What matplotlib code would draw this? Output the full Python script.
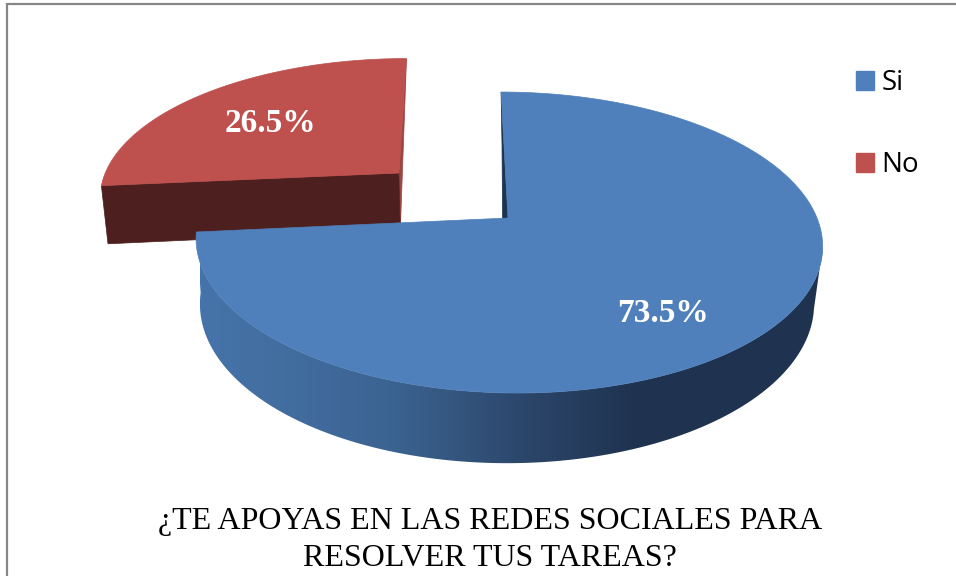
import numpy as np
import matplotlib
matplotlib.use("Agg")
import matplotlib.pyplot as plt
from matplotlib.patches import Polygon, Patch
from matplotlib.colors import LinearSegmentedColormap

labels = ["Si", "No"]
values = [73.5, 26.5]
value_labels = ["73.5%", "26.5%"]
title_lines = ["¿TE APOYAS EN LAS REDES SOCIALES PARA", "RESOLVER TUS TAREAS?"]

BLUE = "#4f80bb"
RED = "#be504d"
RED_FRONT = "#4d1f1e"
RED_BACK = "#9c4543"
BLUE_WALL = "#1b3450"

# projection of the pie disc on the picture: (cx, cy, a, b, shear)
TOP = (508, 218, 309, 146.5, 0.055)
BOTTOM = (507, 278, 303, 155, 0.0)
PERSP = 0.163
EXPLODE = 0.48
RED_SHIFT_TOP = np.array([-2.5, 0])
RED_SHIFT_BOTTOM = np.array([-4.5, 0])


def project(u, v, p):
    cx, cy, a, b, s = p
    u = np.asarray(u, dtype=float)
    v = np.asarray(v, dtype=float)
    y = cy - b * v / (1 + PERSP * v)
    x = cx + a * u / (1 + PERSP * v) + s * (y - cy)
    return np.column_stack([x, y])


def wedge_uv(start, stop, off=(0, 0), n=200):
    # angles clockwise from the top
    t = np.radians(np.linspace(start, stop, n))
    return np.sin(t) + off[0], np.cos(t) + off[1]


angles = np.cumsum([0] + values) * 3.6

fig = plt.figure(figsize=(9.56, 5.76), dpi=100)
ax = fig.add_axes([0, 0, 1, 1])
ax.axis("off")

# chart frame, only left and top are inside the crop
ax.plot([7, 7, 956], [576, 4, 4], color="#868686", lw=1.6, solid_joinstyle="miter")

# exploded red slice
mid = np.radians((angles[1] + angles[2]) / 2)
off = (EXPLODE * np.sin(mid), EXPLODE * np.cos(mid))
ru, rv = wedge_uv(angles[1], angles[2], off)
apex_t = project([off[0]], [off[1]], TOP) + RED_SHIFT_TOP
apex_b = project([off[0]], [off[1]], BOTTOM) + RED_SHIFT_BOTTOM
rt = project(ru, rv, TOP) + RED_SHIFT_TOP
rb = project(ru, rv, BOTTOM) + RED_SHIFT_BOTTOM
ax.add_patch(Polygon([rt[-1], apex_t[0], apex_b[0]], fc=RED_BACK, ec=RED_BACK, lw=0.5))
ax.add_patch(Polygon([rt[0], apex_t[0], apex_b[0], rb[0]], fc=RED_FRONT, ec=RED_FRONT, lw=0.5))
ax.add_patch(Polygon(np.vstack([apex_t, rt]), fc=RED, ec=RED, lw=0.5))

# blue slice: thin cut face, outer wall with shading, top
bu, bv = wedge_uv(angles[0], angles[1])
bt = project(bu, bv, TOP)
bb = project(bu, bv, BOTTOM)
apex = project([0], [0], TOP)
inner = bb[0] + [-5, 0], project([0], [0], BOTTOM)[0] + [-4, 0]
ax.add_patch(Polygon([bt[0], apex[0], inner[1], inner[0]], fc=BLUE_WALL, ec=BLUE_WALL, lw=0.5))

side_cmap = LinearSegmentedColormap.from_list(
    "side", [(0, "#4674aa"), (0.3, "#3c6492"), (0.53, "#2b4569"), (0.7, "#1f3350"), (1, "#1f3350")])
# wall only from the right silhouette point of the rim, the rest is hidden anyway
i0 = np.argmax(bt[:, 0])
wall = Polygon(np.vstack([bt[i0:], bb[i0:][::-1]]), fc="none", ec="none", transform=ax.transData)
ax.add_patch(wall)
grad = ax.imshow(np.linspace(0, 1, 620)[None, :], cmap=side_cmap, aspect="auto",
                 extent=(200, 825, 480, 200), interpolation="bilinear")
grad.set_clip_path(wall)
ax.add_patch(Polygon(np.vstack([apex, bt]), fc=BLUE, ec=BLUE, lw=0.5))

ax.set_xlim(0, 956)
ax.set_ylim(576, 0)

# value labels
for pos, txt in zip([(663, 314), (270, 123)], value_labels):
    ax.text(pos[0], pos[1], txt, color="white", fontsize=24, fontweight="bold",
            family="Liberation Serif", ha="center", va="center")

# title
for y, line in zip([522, 558], title_lines):
    ax.text(490, y, line, fontsize=23, family="Liberation Serif", color="black",
            ha="center", va="center")

handles = [Patch(fc=BLUE, ec=BLUE), Patch(fc=RED, ec=RED)]
ax.legend(handles, labels, loc="upper left", bbox_to_anchor=(834 / 956, 1 - 47 / 576),
          frameon=False, prop={"family": "Open Sans", "size": 20},
          handlelength=0.65, handleheight=0.65, handletextpad=0.25, labelspacing=1.95,
          borderpad=0.3)

fig.savefig("out.png", dpi=100)
plt.close(fig)
